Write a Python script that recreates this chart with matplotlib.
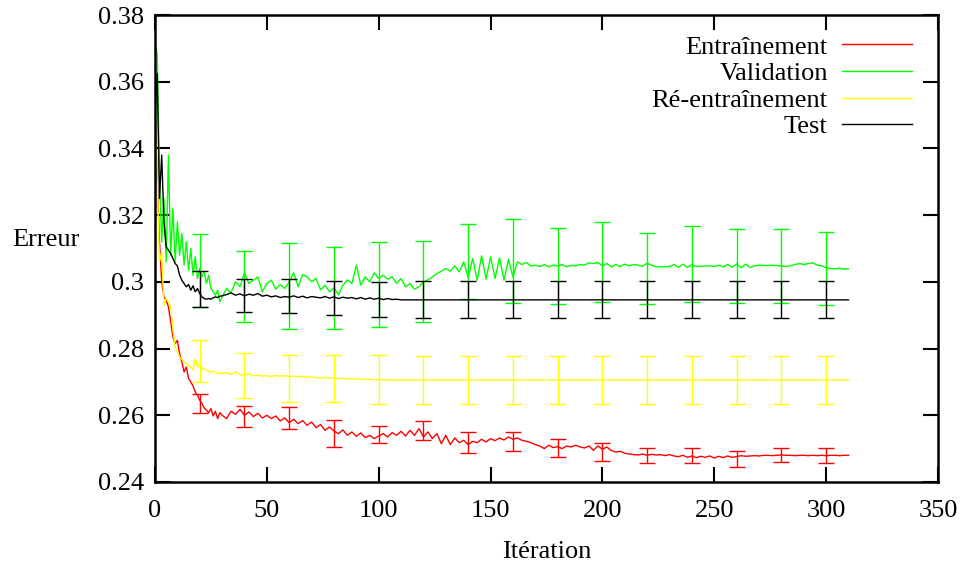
import numpy as np
import matplotlib
matplotlib.use('Agg')
import matplotlib.pyplot as plt
from matplotlib.ticker import FormatStrFormatter

plt.rcParams['font.family'] = ['Liberation Serif', 'DejaVu Serif']

# itérations : pas de 1 jusqu'à 29, puis pas de 2
it_fine = np.arange(0, 30)
it_coarse = np.arange(30, 312, 2)
it_all = np.concatenate([it_fine, it_coarse])
# courbes qui deviennent plates après 110
it_short = np.concatenate([it_fine, np.arange(30, 110, 2), [110, 310]])

# Entraînement
train_fine = [0.352, 0.330, 0.312, 0.300, 0.2955, 0.2945, 0.2925, 0.2880, 0.2835, 0.2815,
              0.2825, 0.2785, 0.2760, 0.2730, 0.2745, 0.2710, 0.2700, 0.2688, 0.2670, 0.2660,
              0.2645, 0.2635, 0.2622, 0.2615, 0.2608, 0.2620, 0.2598, 0.2612, 0.2590, 0.2608]
train_coarse = [0.2600, 0.2590, 0.2612, 0.2603, 0.2618, 0.2600, 0.2610, 0.2596, 0.2606, 0.2592,
                0.2600, 0.2590, 0.2598, 0.2583, 0.2592, 0.2578, 0.2588, 0.2575, 0.2584, 0.2570,
                0.2580, 0.2563, 0.2572, 0.2555, 0.2565, 0.2553, 0.2545, 0.2556, 0.2540, 0.2550,
                0.2537, 0.2547, 0.2533, 0.2540, 0.2530, 0.2538, 0.2545, 0.2535, 0.2548, 0.2540,
                0.2552, 0.2538, 0.2555, 0.2540, 0.2560, 0.2535, 0.2550, 0.2530, 0.2545, 0.2515,
                0.2540, 0.2512, 0.2532, 0.2518, 0.2525, 0.2512, 0.2522, 0.2518, 0.2528, 0.2520,
                0.2530, 0.2524, 0.2532, 0.2526, 0.2535, 0.2528, 0.2532, 0.2525, 0.2522, 0.2518,
                0.2512, 0.2508, 0.2500, 0.2510, 0.2503, 0.2506, 0.2500, 0.2508, 0.2505, 0.2510,
                0.2505, 0.2502, 0.2508, 0.2495, 0.2508, 0.2498, 0.2505, 0.2494, 0.2490, 0.2492,
                0.2486, 0.2484, 0.2482, 0.2481, 0.2484, 0.2480, 0.2483, 0.2481, 0.2482, 0.2479,
                0.2482, 0.2478, 0.2476, 0.2480, 0.2474, 0.2478, 0.2473, 0.2477, 0.2474, 0.2478,
                0.2472, 0.2477, 0.2473, 0.2478, 0.2474, 0.2476, 0.2479, 0.2477, 0.2478, 0.2479,
                0.2478, 0.2480, 0.2480, 0.2479, 0.2480, 0.2481, 0.2480, 0.2480, 0.2479, 0.2480,
                0.2480, 0.2479, 0.2480, 0.2479, 0.2480, 0.2479, 0.2480, 0.2480, 0.2479, 0.2480,
                0.2480]

# Validation
valid_fine = [0.372, 0.368, 0.332, 0.312, 0.325, 0.306, 0.338, 0.308, 0.322, 0.306,
              0.318, 0.308, 0.3145, 0.305, 0.312, 0.3035, 0.310, 0.302, 0.3075, 0.3010,
              0.3040, 0.3015, 0.3030, 0.2995, 0.3020, 0.2980, 0.2970, 0.2960, 0.2975, 0.2940]
valid_coarse = [0.2955, 0.2980, 0.2967, 0.3000, 0.2985, 0.3027, 0.2995, 0.3005, 0.3015, 0.2970,
                0.2995, 0.3005, 0.2978, 0.2992, 0.2980, 0.3000, 0.3027, 0.2985, 0.3022, 0.3015,
                0.3000, 0.3010, 0.2976, 0.2990, 0.2970, 0.2982, 0.2961, 0.2990, 0.3006, 0.2995,
                0.3050, 0.2990, 0.3015, 0.3000, 0.3027, 0.3010, 0.3020, 0.3008, 0.3015, 0.2995,
                0.3010, 0.2985, 0.2995, 0.2978, 0.2985, 0.3000, 0.3006, 0.3015, 0.3025, 0.3032,
                0.3040, 0.3032, 0.3048, 0.3030, 0.3060, 0.3012, 0.3070, 0.3005, 0.3078, 0.3008,
                0.3075, 0.3010, 0.3072, 0.3005, 0.3068, 0.3015, 0.3060, 0.3052, 0.3058, 0.3048,
                0.3050, 0.3046, 0.3052, 0.3045, 0.3050, 0.3048, 0.3052, 0.3045, 0.3050, 0.3048,
                0.3052, 0.3050, 0.3057, 0.3055, 0.3058, 0.3048, 0.3055, 0.3045, 0.3052, 0.3046,
                0.3053, 0.3048, 0.3052, 0.3050, 0.3047, 0.3056, 0.3050, 0.3045, 0.3045, 0.3045,
                0.3046, 0.3052, 0.3044, 0.3053, 0.3043, 0.3052, 0.3046, 0.3047, 0.3047, 0.3048,
                0.3046, 0.3050, 0.3045, 0.3052, 0.3044, 0.3054, 0.3042, 0.3053, 0.3043, 0.3048,
                0.3050, 0.3049, 0.3049, 0.3050, 0.3049, 0.3047, 0.3046, 0.3048, 0.3052, 0.3055,
                0.3052, 0.3055, 0.3057, 0.3050, 0.3048, 0.3042, 0.3040, 0.3039, 0.3041, 0.3038,
                0.3039]

# Ré-entraînement
retrain_fine = [0.355, 0.330, 0.306, 0.309, 0.293, 0.295, 0.294, 0.2925, 0.286, 0.2805,
                0.2790, 0.2775, 0.2768, 0.2760, 0.2755, 0.2750, 0.2745, 0.2735, 0.2770, 0.2745,
                0.2755, 0.2742, 0.2738, 0.2735, 0.2732, 0.2730, 0.2733, 0.2728, 0.2725, 0.2727]
retrain_mid = [0.2725, 0.2728, 0.2723, 0.2730, 0.2722, 0.2720, 0.2724, 0.2718, 0.2720, 0.2717,
               0.2719, 0.2716, 0.2720, 0.2717, 0.2719, 0.2716, 0.2718, 0.2715, 0.2717, 0.2714,
               0.2715, 0.2713, 0.2712, 0.2714, 0.2711, 0.2712, 0.2710, 0.2711, 0.2709, 0.2710,
               0.2708, 0.2709, 0.2707, 0.2708, 0.2706, 0.2707, 0.2706, 0.2707, 0.2706, 0.2706]
retrain_plateau = [0.2706, 0.2706]

# Test
test_fine = [0.350, 0.3625, 0.325, 0.338, 0.318, 0.3105, 0.3095, 0.3085, 0.3070, 0.3055,
             0.3048, 0.3020, 0.3005, 0.2995, 0.2985, 0.2992, 0.2975, 0.2988, 0.2970, 0.2980,
             0.2965, 0.2955, 0.2950, 0.2948, 0.2950, 0.2948, 0.2952, 0.2955, 0.2953, 0.2957]
test_mid = [0.2958, 0.2962, 0.2967, 0.2960, 0.2964, 0.2958, 0.2963, 0.2960, 0.2965, 0.2957,
            0.2960, 0.2955, 0.2958, 0.2953, 0.2956, 0.2954, 0.2958, 0.2953, 0.2957, 0.2952,
            0.2956, 0.2954, 0.2952, 0.2956, 0.2951, 0.2955, 0.2950, 0.2954, 0.2951, 0.2953,
            0.2949, 0.2953, 0.2948, 0.2952, 0.2948, 0.2951, 0.2947, 0.2950, 0.2947, 0.2948]
test_plateau = [0.2946, 0.2946]

# barres d'erreur
err_iter = [20, 40, 60, 80, 100, 120, 140, 160, 180, 200, 220, 240, 260, 280, 300]
train_err_mid = [0.2636, 0.2597, 0.2592, 0.2546, 0.2542, 0.2555, 0.2518, 0.2522,
                 0.2502, 0.2490, 0.2480, 0.2480, 0.2469, 0.2481, 0.2480]
train_err_half = [0.0029, 0.0032, 0.0032, 0.0041, 0.0026, 0.0028, 0.0031, 0.0029,
                  0.0027, 0.0027, 0.0023, 0.0023, 0.0024, 0.0021, 0.0022]
valid_err_mid = [0.3035, 0.2987, 0.2988, 0.2982, 0.2993, 0.3002, 0.3061, 0.3063,
                 0.3048, 0.3060, 0.3040, 0.3053, 0.3047, 0.3047, 0.3040]
valid_err_half = [0.0109, 0.0107, 0.0129, 0.0123, 0.0127, 0.0121, 0.0112, 0.0126,
                  0.0114, 0.0120, 0.0107, 0.0113, 0.0111, 0.0111, 0.0110]
retrain_err_mid = [0.2763, 0.2719, 0.2711, 0.2711, 0.2708, 0.2706, 0.2706, 0.2706,
                   0.2706, 0.2706, 0.2706, 0.2706, 0.2706, 0.2706, 0.2706]
retrain_err_half = [0.0063, 0.0068, 0.0071, 0.0071, 0.0073, 0.0072, 0.0072, 0.0072,
                    0.0072, 0.0072, 0.0072, 0.0072, 0.0072, 0.0072, 0.0072]
test_err_mid = [0.2979, 0.2960, 0.2958, 0.2952, 0.2948, 0.2947, 0.2947, 0.2947,
                0.2947, 0.2947, 0.2947, 0.2947, 0.2947, 0.2947, 0.2947]
test_err_half = [0.0054, 0.0050, 0.0051, 0.0051, 0.0053, 0.0055, 0.0055, 0.0055,
                 0.0055, 0.0055, 0.0055, 0.0055, 0.0055, 0.0055, 0.0055]

labels = ['Entraînement', 'Validation', 'Ré-entraînement', 'Test']
colors = ['#ff0000', '#00ff00', '#ffff00', '#000000']

series = [
    (it_all, train_fine + train_coarse, train_err_mid, train_err_half),
    (it_all, valid_fine + valid_coarse, valid_err_mid, valid_err_half),
    (it_short, retrain_fine + retrain_mid + retrain_plateau, retrain_err_mid, retrain_err_half),
    (it_short, test_fine + test_mid + test_plateau, test_err_mid, test_err_half),
]

fig = plt.figure(figsize=(9.66, 5.64), dpi=100)
ax = fig.add_axes([155 / 966, 82 / 564, 783 / 966, 467 / 564])

handles = []
for (x, y, emid, ehalf), lab, col in zip(series, labels, colors):
    h, = ax.plot(x, y, color=col, lw=1.0, label=lab)
    ax.errorbar(err_iter, emid, yerr=ehalf, fmt='none', ecolor=col,
                elinewidth=1.0, capsize=5.8, capthick=1.0)
    handles.append(h)

ax.set_xlim(0, 350)
ax.set_ylim(0.24, 0.38)
ax.set_xticks(np.arange(0, 351, 50))
ax.set_yticks(np.arange(0.24, 0.3801, 0.02))
ax.yaxis.set_major_formatter(FormatStrFormatter('%g'))
ax.tick_params(direction='in', length=11, width=1.5, labelsize=19,
               top=True, right=True)
ax.tick_params(axis='x', pad=13)
ax.tick_params(axis='y', pad=8)
for sp in ax.spines.values():
    sp.set_linewidth(1.8)

ax.set_xlabel('Itération', fontsize=19, labelpad=14)
fig.text(12 / 966, 1 - 240 / 564, 'Erreur', fontsize=19, ha='left', va='center')

ax.legend(handles=handles, loc='upper right', bbox_to_anchor=(0.967, 0.957),
          frameon=False, markerfirst=False, fontsize=19, handlelength=2.65,
          handletextpad=0.55, labelspacing=0.12, borderpad=0, borderaxespad=0)

fig.savefig('out.png', dpi=100)
